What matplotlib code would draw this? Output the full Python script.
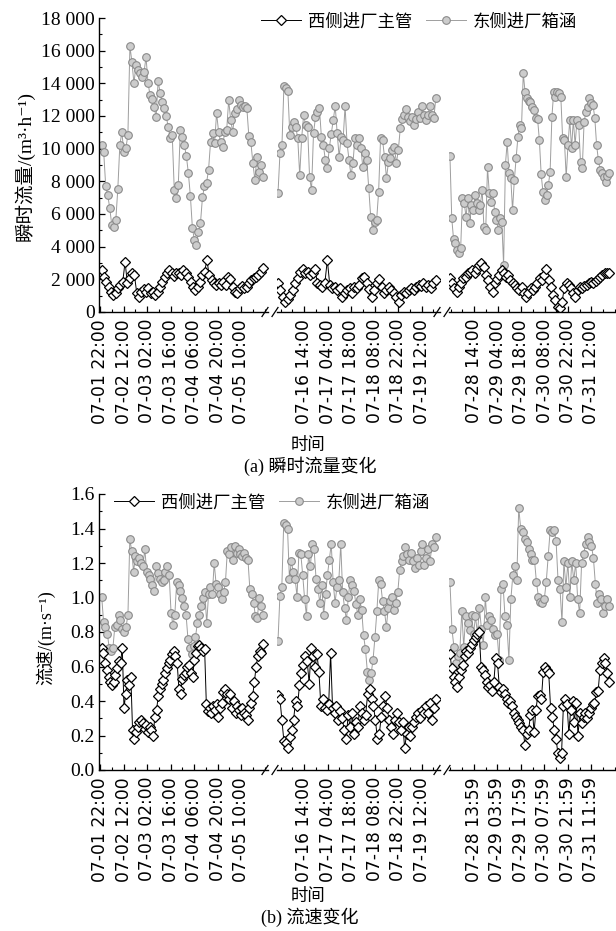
import numpy as np
import pandas as pd
import matplotlib
matplotlib.use('Agg')
import matplotlib.pyplot as plt
import matplotlib.dates as mdates
from matplotlib.lines import Line2D
from matplotlib.ticker import FuncFormatter, MultipleLocator

plt.rcParams['font.family'] = ['Liberation Serif', 'Noto Sans CJK SC', 'DejaVu Sans']
plt.rcParams['axes.linewidth'] = 1.0

YEAR = '2020-'

# ---- data: (a) instantaneous flow, m3/h ----
flow_west_1 = [2570, 2140, 1840, 1530, 1220, 1040, 1160, 1470, 1650, 1840, 3060, 1770, 2080, 2390,
               2260, 1160, 920, 1220, 1410, 1220, 1470, 1160, 1220, 1040, 1220, 1530, 1840, 2140,
               2390, 2570, 2390, 2200, 2390, 2390, 2260, 2570, 2390, 2140, 1840, 1530, 1350, 1530,
               1840, 2260, 2450, 3180, 2260, 1960, 1770, 1650, 1770, 1650, 1840, 1650, 2140, 2020,
               1530, 1220, 1160, 1470, 1590, 1470, 1530, 1770, 1960, 2080, 2140, 2260, 2450, 2690]
flow_east_1 = [10200, 9800, 7700, 7160, 6360, 5320, 5200, 5630, 7530, 10220, 11000, 9800, 10040,
               10830, 16280, 15300, 14000, 15100, 14800, 14630, 14380, 14690, 15600, 14000, 13280,
               13040, 12550, 11930, 14140, 13400, 12850, 12480, 12000, 11320, 10650, 10830, 7470,
               6980, 7770, 11140, 10710, 10220, 9550, 8500, 7100, 5140, 4400, 4100, 4900, 5450,
               7040, 7710, 7900, 8690, 10400, 10950, 10340, 12180, 11020, 10400, 10100, 11020,
               11140, 12970, 11750, 11020, 12180, 12420, 12970, 12670, 12550, 12610, 12480, 10770,
               10400, 9120, 8080, 9490, 8570, 9000, 8260]
flow_west_2 = [1770, 1350, 920, 610, 800, 1040, 1350, 1770, 2080, 2450, 2630, 2390, 2450, 2260,
               2390, 2630, 1770, 1650, 1530, 1770, 3180, 1650, 1470, 1530, 1350, 1470, 920, 1160,
               1350, 1470, 1160, 1530, 1470, 1650, 2080, 2140, 1770, 1410, 920, 1350, 1770, 2020,
               1530, 1160, 1350, 1530, 1350, 1160, 920, 610, 1040, 1220, 1160, 1350, 1470, 1350,
               1530, 1650, 1590, 1770, 1530, 1650, 1470, 1770, 1960]
flow_east_2 = [7280, 9730, 10220, 13830, 13710, 13530, 10830, 11320, 11630, 11320, 10650, 8380,
               10650, 12060, 11440, 11320, 8260, 7470, 10950, 11930, 12240, 12480, 10710, 10220,
               9300, 8810, 10040, 10900, 11750, 12610, 10950, 9490, 10710, 10530, 12610, 10340,
               9300, 8380, 9120, 10650, 10220, 10650, 10040, 8870, 9730, 9300, 7590, 5810, 5020,
               5510, 5630, 7340, 10650, 10530, 9490, 8200, 9180, 9420, 9910, 10100, 9120, 9910,
               11260, 11810, 12060, 12420, 11930, 11690, 11930, 11440, 11810, 12240, 11870, 12610,
               12060, 11750, 12060, 12610, 12060, 11870, 13100]
flow_west_3 = [2080, 1770, 1470, 1220, 1530, 1770, 2080, 2140, 2390, 2450, 2570, 2390, 2630, 2880,
               2990, 2750, 2260, 1960, 1530, 1220, 1770, 2020, 2260, 2570, 2390, 2140, 2260, 1960,
               1770, 1650, 1470, 1350, 1530, 1160, 920, 1160, 1470, 1350, 1530, 1770, 2080, 1960,
               2260, 2630, 1960, 1530, 1040, 730, 310, 240, 610, 1470, 1770, 1650, 1470, 1160, 920,
               1350, 1530, 1470, 1590, 1650, 1770, 1840, 1770, 1900, 2020, 2140, 2260, 2390, 2390,
               2390]
flow_east_3 = [9550, 5750, 4470, 4220, 3790, 3610, 3920, 6980, 6670, 5810, 6980, 5450, 6550, 6240,
               7160, 6670, 6240, 6550, 7470, 5200, 5020, 8870, 7280, 6730, 7280, 6120, 5630, 5020,
               5750, 5510, 2880, 9000, 10400, 8500, 8200, 6240, 8080, 9420, 10710, 11440, 11260,
               14630, 13460, 13100, 12910, 12850, 12550, 12360, 11870, 11810, 10530, 8440, 7340,
               6850, 7160, 7770, 8570, 11930, 13460, 13160, 13460, 13400, 13160, 10650, 10530, 8260,
               10220, 11750, 10040, 11750, 10220, 11750, 11440, 9180, 8810, 11630, 12240, 12550,
               13100, 12790, 12670, 11870, 10220, 9300, 8690, 8500, 8260, 7960, 8320, 8500]

# ---- data: (b) velocity, m/s ----
vel_west_1 = [0.71, 0.68, 0.62, 0.58, 0.54, 0.51, 0.49, 0.51, 0.55, 0.59, 0.63, 0.62, 0.71, 0.36,
              0.44, 0.52, 0.49, 0.54, 0.23, 0.18, 0.22, 0.25, 0.28, 0.29, 0.27, 0.24, 0.26, 0.22,
              0.25, 0.23, 0.20, 0.31, 0.35, 0.43, 0.47, 0.50, 0.52, 0.56, 0.59, 0.62, 0.64, 0.67,
              0.69, 0.66, 0.62, 0.47, 0.44, 0.53, 0.55, 0.56, 0.60, 0.61, 0.56, 0.54, 0.64, 0.68,
              0.72, 0.725, 0.71, 0.69, 0.70, 0.38, 0.34, 0.36, 0.33, 0.37, 0.35, 0.38, 0.31, 0.36,
              0.39, 0.45, 0.47, 0.44, 0.41, 0.44, 0.36, 0.40, 0.33, 0.37, 0.35, 0.32, 0.36, 0.33,
              0.32, 0.29, 0.36, 0.39, 0.43, 0.51, 0.60, 0.66, 0.69, 0.68, 0.73]
vel_east_1 = [1.005, 0.86, 0.83, 0.79, 0.71, 0.69, 0.71, 0.83, 0.84, 0.90, 0.87, 0.82, 0.80, 0.83,
              0.90, 1.34, 1.27, 1.15, 1.24, 1.21, 1.23, 1.20, 1.18, 1.28, 1.15, 1.13, 1.11, 1.07,
              1.04, 1.18, 1.14, 1.11, 1.09, 1.10, 1.15, 1.18, 1.13, 0.91, 0.84, 0.90, 1.09, 1.07,
              1.04, 1.00, 0.95, 0.90, 0.76, 0.71, 0.67, 0.72, 0.77, 0.85, 0.90, 0.95, 1.00, 1.03,
              0.85, 1.02, 1.06, 1.02, 1.20, 1.08, 1.06, 1.02, 0.99, 1.03, 1.09, 1.27, 1.25, 1.29,
              1.22, 1.30, 1.26, 1.28, 1.25, 1.24, 1.26, 1.23, 1.22, 1.05, 1.02, 0.97, 0.89, 0.88,
              1.00, 0.95, 0.90]
vel_west_2 = [0.435, 0.41, 0.29, 0.17, 0.155, 0.125, 0.19, 0.23, 0.29, 0.40, 0.37, 0.49, 0.56,
              0.61, 0.66, 0.63, 0.50, 0.71, 0.66, 0.60, 0.67, 0.57, 0.37, 0.41, 0.36, 0.35, 0.38,
              0.68, 0.36, 0.33, 0.37, 0.29, 0.34, 0.30, 0.23, 0.18, 0.32, 0.25, 0.33, 0.21, 0.28,
              0.25, 0.37, 0.33, 0.29, 0.32, 0.44, 0.47, 0.41, 0.37, 0.29, 0.18, 0.21, 0.31, 0.37,
              0.43, 0.36, 0.29, 0.25, 0.21, 0.29, 0.33, 0.28, 0.23, 0.28, 0.125, 0.21, 0.25, 0.20,
              0.25, 0.28, 0.31, 0.33, 0.30, 0.35, 0.33, 0.37, 0.33, 0.39, 0.29, 0.36, 0.41]
vel_east_2 = [0.75, 1.01, 1.06, 1.43, 1.42, 1.40, 1.11, 1.21, 1.15, 1.11, 1.005, 1.26, 1.25, 1.13,
              0.99, 0.89, 1.25, 1.18, 1.31, 1.28, 1.11, 1.05, 0.97, 1.07, 0.90, 1.02, 1.13, 1.22,
              1.31, 1.09, 0.97, 1.06, 1.10, 1.31, 1.03, 0.94, 0.87, 1.005, 1.10, 1.07, 1.04, 0.96,
              0.90, 0.99, 0.93, 0.78, 0.70, 0.57, 0.52, 0.56, 0.64, 0.77, 0.92, 1.10, 1.08, 0.98,
              0.92, 0.83, 0.94, 0.98, 1.005, 0.93, 0.97, 1.03, 1.16, 1.21, 1.24, 1.29, 1.25, 1.22,
              1.26, 1.21, 1.17, 1.23, 1.19, 1.27, 1.31, 1.19, 1.23, 1.28, 1.21, 1.31, 1.29, 1.35]
vel_west_3 = [0.67, 0.59, 0.54, 0.51, 0.48, 0.54, 0.58, 0.61, 0.66, 0.69, 0.68, 0.71, 0.73, 0.755,
              0.77, 0.79, 0.80, 0.60, 0.58, 0.55, 0.51, 0.48, 0.49, 0.46, 0.51, 0.65, 0.62, 0.48,
              0.45, 0.47, 0.44, 0.41, 0.39, 0.40, 0.37, 0.33, 0.31, 0.29, 0.27, 0.25, 0.23, 0.145,
              0.21, 0.23, 0.32, 0.35, 0.22, 0.35, 0.43, 0.435, 0.41, 0.57, 0.60, 0.58, 0.56, 0.36,
              0.31, 0.23, 0.18, 0.097, 0.068, 0.097, 0.37, 0.41, 0.38, 0.21, 0.35, 0.40, 0.28, 0.39,
              0.20, 0.33, 0.27, 0.31, 0.33, 0.30, 0.33, 0.36, 0.38, 0.39, 0.45, 0.46, 0.58, 0.62,
              0.65, 0.62, 0.56, 0.51]
vel_east_3 = [1.09, 0.82, 0.715, 0.62, 0.66, 0.68, 0.92, 0.715, 0.89, 0.85, 0.81, 0.90, 0.79, 0.89,
              0.79, 0.94, 0.82, 0.725, 1.005, 0.84, 0.89, 0.87, 0.82, 0.78, 0.79, 0.64, 1.05, 1.08,
              0.89, 0.84, 0.64, 0.99, 1.13, 1.18, 1.10, 1.52, 1.40, 1.38, 1.34, 1.32, 1.28, 1.25,
              1.22, 1.22, 1.09, 1.005, 0.975, 0.97, 0.99, 1.09, 1.24, 1.39, 1.38, 1.39, 1.33, 1.10,
              1.05, 0.86, 1.21, 1.06, 1.20, 1.005, 1.21, 1.10, 1.20, 0.99, 0.91, 1.20, 1.25, 1.31,
              1.35, 1.32, 1.30, 1.23, 1.08, 0.97, 1.02, 0.99, 0.91, 0.95, 0.99, 0.95]

# time span covered by the records in each segment
seg_start = ['07-01 23:00', '07-15 22:30', '07-27 23:40']
seg_end = ['07-05 23:00', '07-19 20:30', '07-31 22:30']

ticks_1 = ['07-01 22:00', '07-02 12:00', '07-03 02:00', '07-03 16:00', '07-04 06:00',
           '07-04 20:00', '07-05 10:00']
ticks_2 = ['07-16 14:00', '07-17 04:00', '07-17 18:00', '07-18 08:00', '07-18 22:00',
           '07-19 12:00']
ticks_3a = ['07-28 14:00', '07-29 04:00', '07-29 18:00', '07-30 08:00', '07-30 22:00',
            '07-31 12:00']
ticks_3b = ['07-28 13:59', '07-29 03:59', '07-29 17:59', '07-30 07:59', '07-30 21:59',
            '07-31 11:59']

legend_labels = ['西侧进厂主管', '东侧进厂箱涵']

# ---- layout (pixels) ----
W, H = 616, 931
SEG_PX = [(99, 268), (277, 440), (449, 616)]
SEG_LIM = [('07-01 21:24', '07-06 02:00'), ('07-15 21:54', '07-19 23:00'),
           ('07-27 23:06', '08-01 02:36')]

west_style = dict(color='black', lw=0.7, marker='D', ms=5.0, mfc='white', mec='black', mew=0.9)
east_style = dict(color='#9e9e9e', lw=0.7, marker='o', ms=5.5, mfc='#cccccc', mec='#8a8a8a',
                  mew=0.8)


def t(s):
    return mdates.date2num(pd.Timestamp(YEAR + s))


fig = plt.figure(figsize=(W / 100, H / 100), dpi=100)


def slash(xc, yc):
    # small "/" break mark, given in pixels from the top-left corner
    fig.add_artist(Line2D([(xc - 3) / W, (xc + 3) / W], [1 - (yc + 4.5) / H, 1 - (yc - 4.5) / H],
                          color='black', lw=0.9, transform=fig.transFigure))


def draw_panel(top, bot, west, east, ticks, ylim, ymajor, yminor, yfmt):
    axes = []
    for i in range(3):
        l, r = SEG_PX[i]
        ax = fig.add_axes([l / W, 1 - bot / H, (r - l) / W, (bot - top) / H])
        ax.patch.set_alpha(0)
        x_w = np.linspace(t(seg_start[i]), t(seg_end[i]), len(west[i]))
        x_e = np.linspace(t(seg_start[i]), t(seg_end[i]), len(east[i]))
        ax.plot(x_e, east[i], **east_style)
        ax.plot(x_w, west[i], **west_style)
        ax.set_xlim(t(SEG_LIM[i][0]), t(SEG_LIM[i][1]))
        ax.set_ylim(*ylim)

        major = [t(s) for s in ticks[i]]
        step = 7 / 24
        lo, hi = ax.get_xlim()
        minor = [major[0] + k * step for k in range(-6, 2 * len(major) + 6)]
        minor = [m for m in minor if lo < m < hi and min(abs(m - M) for M in major) > 1e-3]
        ax.set_xticks(major, ticks[i], rotation=90, fontfamily='DejaVu Sans', fontsize=12.3)
        ax.set_xticks(minor, minor=True)

        for s in ['top', 'right']:
            ax.spines[s].set_visible(False)
        ax.tick_params(axis='both', which='major', direction='in', length=4, width=0.9)
        ax.tick_params(axis='both', which='minor', direction='in', length=2.5, width=0.8)
        ax.tick_params(axis='x', which='major', pad=5)
        if i == 0:
            ax.yaxis.set_major_locator(MultipleLocator(ymajor))
            ax.yaxis.set_minor_locator(MultipleLocator(yminor))
            ax.yaxis.set_major_formatter(FuncFormatter(yfmt))
            ax.tick_params(axis='y', labelsize=14, pad=3)
        else:
            ax.spines['left'].set_visible(False)
            ax.tick_params(axis='y', which='both', left=False, labelleft=False)
        axes.append(ax)
    # break marks on the time axis
    for xc in [265, 275, 437, 447]:
        slash(xc, bot)
    return axes


def flow_fmt(v, _):
    return f'{v:,.0f}'.replace(',', ' ')


def vel_fmt(v, _):
    return f'{v:.1f}'


draw_panel(18, 312, [flow_west_1, flow_west_2, flow_west_3],
           [flow_east_1, flow_east_2, flow_east_3],
           [ticks_1, ticks_2, ticks_3a], (0, 18000), 2000, 1000, flow_fmt)
draw_panel(494, 770, [vel_west_1, vel_west_2, vel_west_3],
           [vel_east_1, vel_east_2, vel_east_3],
           [ticks_1, ticks_2, ticks_3b], (0, 1.6), 0.2, 0.1, vel_fmt)

handles = [Line2D([], [], **west_style), Line2D([], [], **east_style)]
leg_kw = dict(ncol=2, frameon=False, fontsize=12.5, handlelength=2.3, handletextpad=0.4,
              columnspacing=0.8, loc='center')
fig.legend(handles, legend_labels, bbox_to_anchor=(419 / W, 1 - 22 / H), **leg_kw)
fig.legend(handles, legend_labels, bbox_to_anchor=(272 / W, 1 - 503 / H), **leg_kw)

fig.text(24 / W, 1 - 166 / H, '瞬时流量/(m³·h⁻¹)', rotation=90,
         ha='center', va='center', fontsize=14)
fig.text(46 / W, 1 - 638 / H, '流速/(m·s⁻¹)', rotation=90,
         ha='center', va='center', fontsize=13)

fig.text(308 / W, 1 - 446 / H, '时间', ha='center', va='center', fontsize=12.5)
fig.text(310 / W, 1 - 466 / H, '(a) 瞬时流量变化', ha='center', va='center', fontsize=13)
fig.text(308 / W, 1 - 897 / H, '时间', ha='center', va='center', fontsize=12.5)
fig.text(310 / W, 1 - 917 / H, '(b) 流速变化', ha='center', va='center', fontsize=13)

fig.savefig('out.png', dpi=100)
